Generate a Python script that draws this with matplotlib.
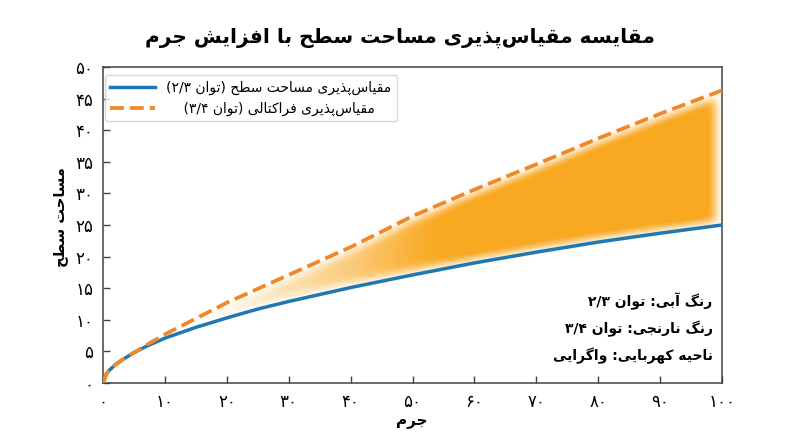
import re
import numpy as np
import matplotlib
matplotlib.use("Agg")
import matplotlib.pyplot as plt
from matplotlib.ticker import FuncFormatter, MultipleLocator

# values
mass = [0, 0.5, 1, 2, 3, 5, 7, 10, 15, 20, 25, 30, 40, 50, 60, 70, 80, 90, 100]
area_surface = [0, 1.36, 2.0, 2.9, 3.6, 4.8, 5.8, 7.1, 8.8, 10.3, 11.7, 12.9,
                15.1, 17.1, 19.0, 20.7, 22.3, 23.7, 25.0]
area_fractal = [0, 1.36, 2.0, 2.9, 3.6, 4.8, 6.0, 7.7, 10.2, 12.7, 14.9, 17.1,
                21.5, 26.4, 30.6, 34.6, 38.7, 42.6, 46.3]

title = "مقایسه مقیاس‌پذیری مساحت سطح با افزایش جرم"
xlabel = "جرم"
ylabel = "مساحت سطح"
label_surface = "مقیاس‌پذیری مساحت سطح (توان ۲/۳)"
label_fractal = "مقیاس‌پذیری فراکتالی (توان ۳/۴)"
note_lines = ["رنگ آبی: توان ۲/۳", "رنگ نارنجی: توان ۳/۴", "ناحیه کهربایی: واگرایی"]

BLUE = "#1f77b4"
ORANGE = "#f0882a"
AMBER = (0.98, 0.65, 0.10)

# --- minimal persian shaping + bidi (no extra libs available) ---
FORMS = {
    'ا': ('\uFE8D', '\uFE8E', None, None),
    'آ': ('\uFE81', '\uFE82', None, None),
    'ب': ('\uFE8F', '\uFE90', '\uFE91', '\uFE92'),
    'پ': ('\uFB56', '\uFB57', '\uFB58', '\uFB59'),
    'ت': ('\uFE95', '\uFE96', '\uFE97', '\uFE98'),
    'ج': ('\uFE9D', '\uFE9E', '\uFE9F', '\uFEA0'),
    'ح': ('\uFEA1', '\uFEA2', '\uFEA3', '\uFEA4'),
    'ذ': ('\uFEAB', '\uFEAC', None, None),
    'ر': ('\uFEAD', '\uFEAE', None, None),
    'ز': ('\uFEAF', '\uFEB0', None, None),
    'س': ('\uFEB1', '\uFEB2', '\uFEB3', '\uFEB4'),
    'ش': ('\uFEB5', '\uFEB6', '\uFEB7', '\uFEB8'),
    'ط': ('\uFEC1', '\uFEC2', '\uFEC3', '\uFEC4'),
    'ف': ('\uFED1', '\uFED2', '\uFED3', '\uFED4'),
    'ق': ('\uFED5', '\uFED6', '\uFED7', '\uFED8'),
    'ک': ('\uFB8E', '\uFB8F', '\uFB90', '\uFB91'),
    'گ': ('\uFB92', '\uFB93', '\uFB94', '\uFB95'),
    'ل': ('\uFEDD', '\uFEDE', '\uFEDF', '\uFEE0'),
    'م': ('\uFEE1', '\uFEE2', '\uFEE3', '\uFEE4'),
    'ن': ('\uFEE5', '\uFEE6', '\uFEE7', '\uFEE8'),
    'ه': ('\uFEE9', '\uFEEA', '\uFEEB', '\uFEEC'),
    'و': ('\uFEED', '\uFEEE', None, None),
    'ی': ('\uFBFC', '\uFBFD', '\uFBFE', '\uFBFF'),
}


def shape(s):
    out = []
    for i, ch in enumerate(s):
        if ch == '\u200c':
            continue
        if ch not in FORMS:
            out.append(ch)
            continue
        iso, fin, ini, med = FORMS[ch]
        prev = s[i - 1] if i > 0 else ''
        nxt = s[i + 1] if i + 1 < len(s) else ''
        pj = prev in FORMS and FORMS[prev][2] is not None
        nj = nxt in FORMS and ini is not None
        if pj and nj:
            out.append(med)
        elif pj:
            out.append(fin)
        elif nj:
            out.append(ini)
        else:
            out.append(iso)
    return ''.join(out)


def fa(s):
    lines = []
    for line in s.split('\n'):
        rev = shape(line)[::-1]
        rev = re.sub(r'[۰-۹]+(?:/[۰-۹]+)*', lambda m: m.group(0)[::-1], rev)
        lines.append(rev.translate(str.maketrans('()', ')(')))
    return '\n'.join(lines)


def fa_digits(v, pos=None):
    return str(int(round(v))).translate(str.maketrans('0123456789', '۰۱۲۳۴۵۶۷۸۹'))


plt.rcParams['font.family'] = ['DejaVu Sans']

fig = plt.figure(figsize=(8, 4.47), dpi=100)
ax = fig.add_axes([103 / 800, 1 - 383 / 447, (722 - 103) / 800, (383 - 67) / 447])

# soft amber band between the curves (inset a little from both lines, then blurred)
nx, ny = 620, 316
gx = np.linspace(0, 100, nx)
gy = np.linspace(0, 50, ny)
lo = np.interp(gx, mass, area_surface)
hi = np.interp(gx, mass, area_fractal)
inset = 0.8
mask = ((gy[:, None] >= lo[None, :] + inset) & (gy[:, None] <= hi[None, :] - inset)).astype(float)
mask[:, -8:] = 0  # soft stop a few pixels before the right spine


def gauss(sig):
    k = np.exp(-0.5 * (np.arange(-3 * int(sig), 3 * int(sig) + 1) / sig) ** 2)
    return k / k.sum()


kx, ky = gauss(5.0), gauss(4.0)
mask = np.apply_along_axis(lambda r: np.convolve(r, kx, mode='same'), 1, mask)
mask = np.apply_along_axis(lambda c: np.convolve(c, ky, mode='same'), 0, mask)
width = np.clip((hi - lo) / 11.0, 0, 1) ** 1.1
rgba = np.zeros((ny, nx, 4))
rgba[..., 0], rgba[..., 1], rgba[..., 2] = AMBER
rgba[..., 3] = np.clip(mask * width[None, :] * 1.05, 0, 0.97)
ax.imshow(rgba, extent=(0, 100, 0, 50), origin='lower', aspect='auto',
          interpolation='bilinear', zorder=1)

ax.plot(mass, area_surface, color=BLUE, lw=2.5, label=fa(label_surface), zorder=3)
ax.plot(mass, area_fractal, color=ORANGE, lw=2.7, ls='--',
        label='    ' + fa(label_fractal), zorder=4)

ax.set_xlim(0, 100)
ax.set_ylim(0, 50)
ax.xaxis.set_major_locator(MultipleLocator(10))
ax.yaxis.set_major_locator(MultipleLocator(5))
ax.xaxis.set_major_formatter(FuncFormatter(fa_digits))
ax.yaxis.set_major_formatter(FuncFormatter(fa_digits))
ax.tick_params(direction='in', length=5, width=1, color='#444444', labelsize=12, pad=7)
for sp in ax.spines.values():
    sp.set_color('#444444')
    sp.set_linewidth(1.1)

fig.text(0.5, 1 - 38 / 447, fa(title), ha='center', va='center', fontsize=14.5, fontweight='bold')
fig.text(412 / 800, 1 - 421 / 447, fa(xlabel), ha='center', va='center', fontsize=11, fontweight='bold')
fig.text(60 / 800, 1 - 217 / 447, fa(ylabel), ha='center', va='center', rotation=90,
         fontsize=10.5, fontweight='bold')

leg = ax.legend(loc='upper left', bbox_to_anchor=(0.003, 0.975), borderaxespad=0,
                fontsize=10, handlelength=3.2, frameon=True, fancybox=True)
leg.get_frame().set_edgecolor('#cccccc')
leg.get_frame().set_linewidth(1.0)

ax.text(0.985, 1 - (328 - 67) / 316, fa('\n'.join(note_lines)), transform=ax.transAxes,
        ha='right', va='center', multialignment='right', fontsize=10, fontweight='bold',
        linespacing=1.85, zorder=5)

fig.savefig('out.png', dpi=100)
